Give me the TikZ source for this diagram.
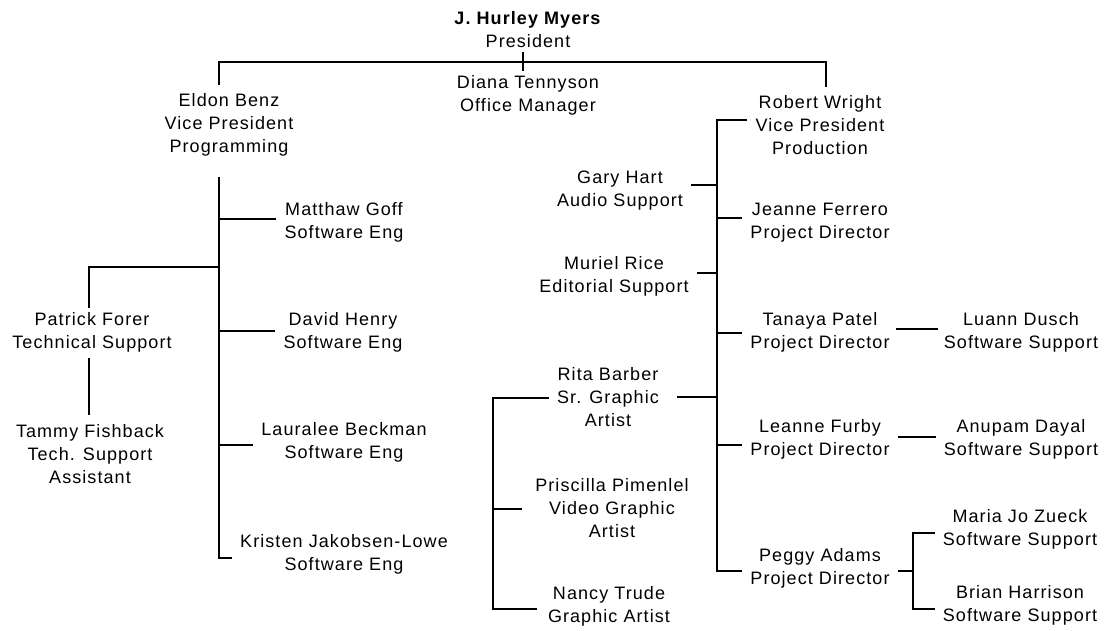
\documentclass[tikz,border=0pt]{standalone}
\usepackage{fontspec}
\setmainfont{Liberation Sans}[LetterSpace=6]
\usetikzlibrary{calc}
\tikzset{
  person/.style={align=center, font=\fontsize{18}{23}\selectfont, inner xsep=8pt, inner ysep=4pt, text=black},
  conn/.style={line width=1.1pt, draw=black}
}
\newcommand{\hconn}[3]{\path ($(#1)+(#2)$) coordinate (hctmp); \draw[conn] (hctmp) -- (hctmp -| #3);}
\begin{document}
\begin{tikzpicture}[x=1pt,y=-1pt]
\fill[white] (0,0) rectangle (1105,631);
\useasboundingbox (0,0) rectangle (1105,631);
% nodes
\node[person] (hm) at (528,29.5) {\textbf{J. Hurley Myers}\\President};
\node[person] (dt) at (528,95.5) {Diana Tennyson\\Office Manager};
\node[person] (eb) at (229,125) {Eldon Benz\\Vice President\\Programming};
\node[person] (rw) at (820,125) {Robert Wright\\Vice President\\Production};
\node[person] (mg) at (344,222.5) {Matthaw Goff\\Software Eng};
\node[person] (dh) at (343,332.5) {David Henry\\Software Eng};
\node[person] (lb) at (344,442.5) {Lauralee Beckman\\Software Eng};
\node[person] (kj) at (344,554.5) {Kristen Jakobsen-Lowe\\Software Eng};
\node[person] (pf) at (92,332.5) {Patrick Forer\\Technical Support};
\node[person] (tf) at (90,454) {Tammy Fishback\\Tech. Support\\Assistant};
\node[person] (gh) at (620,191) {Gary Hart\\Audio Support};
\node[person] (jf) at (820,223) {Jeanne Ferrero\\Project Director};
\node[person] (mr) at (614,276) {Muriel Rice\\Editorial Support};
\node[person] (tp) at (820,332.5) {Tanaya Patel\\Project Director};
\node[person] (ld) at (1021,332.5) {Luann Dusch\\Software Support};
\node[person] (rb) at (608,397.5) {Rita Barber\\Sr. Graphic\\Artist};
\node[person] (lf) at (820,439.5) {Leanne Furby\\Project Director};
\node[person] (ad) at (1021,439.5) {Anupam Dayal\\Software Support};
\node[person] (pp) at (612,508) {Priscilla Pimenlel\\Video Graphic\\Artist};
\node[person] (pa) at (820,568) {Peggy Adams\\Project Director};
\node[person] (mz) at (1020,529) {Maria Jo Zueck\\Software Support};
\node[person] (bh) at (1020,605.5) {Brian Harrison\\Software Support};
\node[person] (nt) at (609,606) {Nancy Trude\\Graphic Artist};
% top level
\draw[conn] ($(hm.south)+(-5,0)$) -- ($(dt.north)+(-5,0)$);
\coordinate (bar) at (523,62);
\draw[conn] ($(eb.north)+(-10,-4)$) |- (bar) -| ($(rw.north)+(6,-4)$);
% programming
\coordinate (ebus) at ($(eb.south)+(-10,16)$);
\draw[conn] (ebus) |- ($(kj.west)+(0,3.5)$);
\hconn{mg.west}{0,-3.5}{ebus}
\hconn{dh.west}{0,-1.5}{ebus}
\hconn{lb.west}{0,2.5}{ebus}
\coordinate (pfy) at (0,267);
\draw[conn] ($(pf.north)+(-3,0)$) |- (ebus |- pfy);
\draw[conn] ($(pf.south)+(-3,1)$) -- ($(tf.north)+(-1,-5)$);
% production
\coordinate (rbus) at (717,120);
\draw[conn] ($(rw.west)+(0,-5)$) -- (rbus) |- ($(pa.west)+(0,3)$);
\hconn{gh.east}{0,-6}{rbus}
\hconn{jf.west}{0,-5}{rbus}
\hconn{mr.east}{0,-3}{rbus}
\hconn{tp.west}{0,0.5}{rbus}
\hconn{lf.west}{0,5.5}{rbus}
\hconn{rb.east}{10,-0.5}{rbus}
\draw[conn] ($(tp.east)+(-2,-3.5)$) -- ($(ld.west)+(2,-3.5)$);
\draw[conn] ($(lf.east)+(0,-2.5)$) -- ($(ad.west)+(0,-2.5)$);
% graphics group
\coordinate (gbus) at (493,0);
\path ($(rb.west)+(0,0.5)$) coordinate (rbw) ($(nt.west)+(-3,3)$) coordinate (ntw);
\draw[conn] (rbw) -- (rbw -| gbus) -- (ntw -| gbus) -- (ntw);
\hconn{pp.west}{-5,1}{gbus}
% Peggy's group
\coordinate (pbus) at (913,0);
\path ($(mz.west)+(0,4)$) coordinate (mzw) ($(bh.west)+(0,3.5)$) coordinate (bhw);
\draw[conn] (mzw) -- (mzw -| pbus) -- (bhw -| pbus) -- (bhw);
\hconn{pa.east}{0,3}{pbus}
\end{tikzpicture}
\end{document}
